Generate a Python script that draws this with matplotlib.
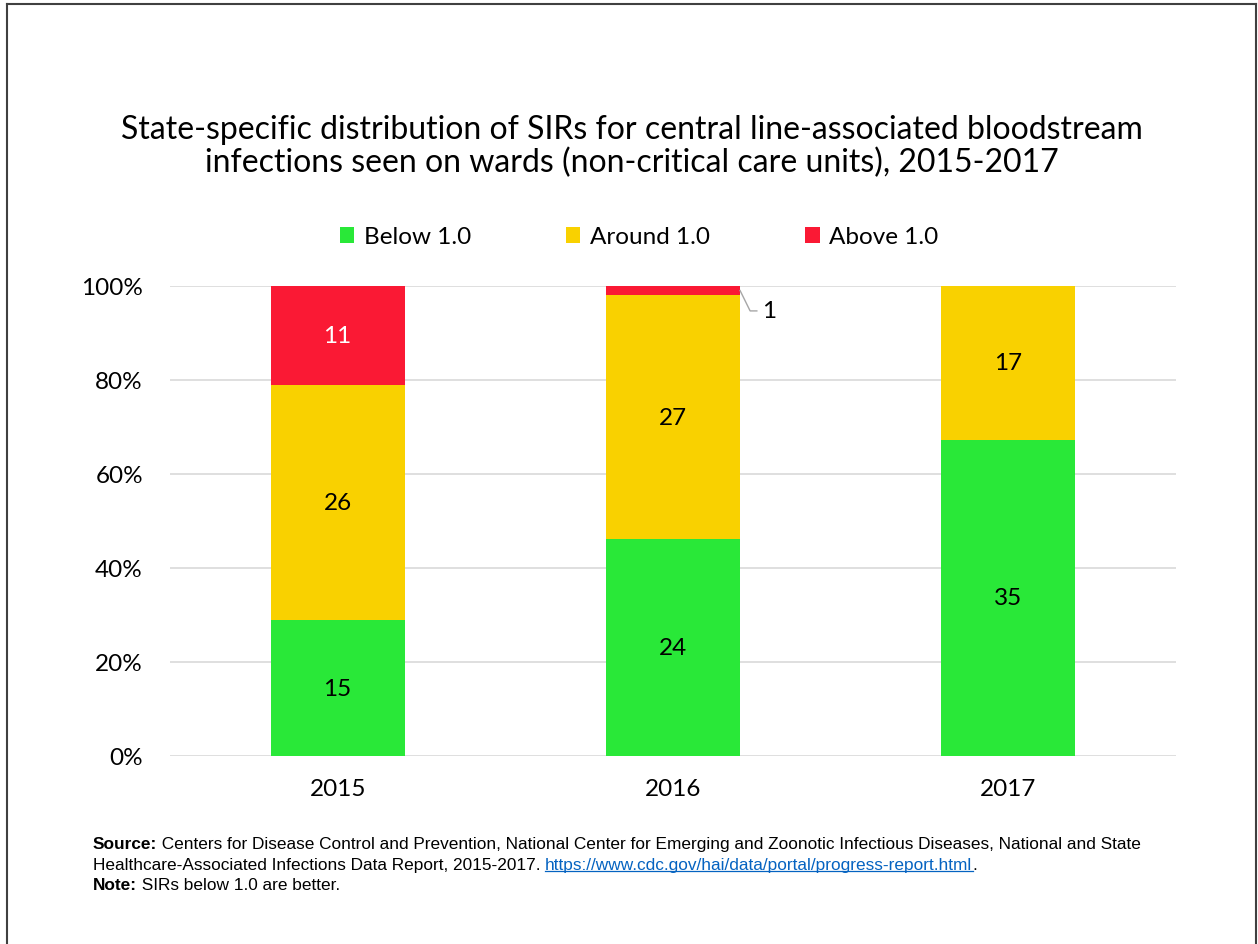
import matplotlib
matplotlib.use("Agg")
import matplotlib.pyplot as plt
from matplotlib.lines import Line2D
from matplotlib.offsetbox import TextArea, HPacker, AnchoredOffsetbox
import numpy as np

years = ["2015", "2016", "2017"]
series_names = ["Below 1.0", "Around 1.0", "Above 1.0"]
below = [15, 24, 35]
around = [26, 27, 17]
above = [11, 1, 0]
yticks = [0, 20, 40, 60, 80, 100]
colors = ["#29E838", "#F9D100", "#FA1934"]

plt.rcParams["font.family"] = ["Lato", "DejaVu Sans"]

W, H = 1258, 945
fig = plt.figure(figsize=(W / 100, H / 100), dpi=100)

def fx(px):
    return px / W

def fy(py):
    return 1 - py / H

ax = fig.add_axes([fx(170), fy(757), fx(1176) - fx(170), fy(287) - fy(757)])

LFS = 17.5
counts = np.array([below, around, above], dtype=float)
totals = counts.sum(axis=0)
pct = counts / totals * 100
x = np.arange(len(years))
bw = 0.4
bottom = np.zeros(len(years))
handles = []
for i, name in enumerate(series_names):
    bars = ax.bar(x, pct[i], bw, bottom=bottom, color=colors[i], label=name, zorder=3)
    handles.append(bars)
    for j in range(len(years)):
        c = counts[i][j]
        if c <= 0:
            continue
        txtcolor = "white" if i == 2 else "black"
        if pct[i][j] < 5:
            top = bottom[j] + pct[i][j]
            x0 = x[j] + bw / 2
            y0 = bottom[j] + pct[i][j] / 2
            ye = top - 5.3
            ax.plot([x0, x0 + 0.03, x0 + 0.05], [y0, ye, ye], color="#A6A6A6", lw=1,
                    zorder=4, clip_on=False)
            ax.text(x0 + 0.066, ye, str(int(c)), ha="left", va="center",
                    fontsize=LFS, color="black", zorder=4)
        else:
            ax.text(x[j], bottom[j] + pct[i][j] / 2, str(int(c)), ha="center", va="center",
                    fontsize=LFS, color=txtcolor, zorder=4)
    bottom = bottom + pct[i]

ax.set_xlim(-0.5, 2.5)
ax.set_ylim(0, 100)
ax.set_yticks(yticks)
ax.set_yticklabels([f"{t}%" for t in yticks])
ax.set_xticks(x)
ax.set_xticklabels(years)
ax.tick_params(axis="both", length=0, labelsize=LFS, colors="black")
ax.tick_params(axis="y", pad=19.5)
ax.tick_params(axis="x", pad=16)
ax.yaxis.grid(True, color="#D9D9D9", lw=1.2, zorder=0)
for s in ax.spines.values():
    s.set_visible(False)

fig.legend(handles=handles, labels=series_names, loc="center", bbox_to_anchor=(fx(639), fy(238)),
           ncol=3, frameon=False, fontsize=LFS, handlelength=0.6, handleheight=0.6,
           handletextpad=0.4, columnspacing=3.9)

fig.text(fx(632), fy(130), "State-specific distribution of SIRs for central line-associated bloodstream",
         ha="center", va="center", fontsize=23)
fig.text(fx(632), fy(163), "infections seen on wards (non-critical care units), 2015-2017",
         ha="center", va="center", fontsize=23)

ff = ["Liberation Sans", "DejaVu Sans"]
fs = 12.4
url_box = None

def line(parts, y):
    global url_box
    boxes = []
    for txt, w, col, is_url in parts:
        ta = TextArea(txt, textprops=dict(fontsize=fs, family=ff, fontweight=w, color=col))
        if is_url:
            url_box = ta
        boxes.append(ta)
    pk = HPacker(children=boxes, pad=0, sep=0, align="baseline")
    ab = AnchoredOffsetbox(loc="center left", child=pk, pad=0, frameon=False,
                           bbox_to_anchor=(fx(93), fy(y)), bbox_transform=fig.transFigure,
                           borderpad=0)
    fig.add_artist(ab)

line([("Source:", "bold", "black", False),
      (" Centers for Disease Control and Prevention, National Center for Emerging and Zoonotic Infectious Diseases, National and State", "normal", "black", False)], 845)
line([("Healthcare-Associated Infections Data Report, 2015-2017. ", "normal", "black", False),
      ("https://www.cdc.gov/hai/data/portal/progress-report.html", "normal", "#0563C1", True),
      (".", "normal", "black", False)], 866)
line([("Note:", "bold", "black", False),
      (" SIRs below 1.0 are better.", "normal", "black", False)], 886)

fig.canvas.draw()
if url_box is not None:
    bb = url_box._text.get_window_extent()
    yl = bb.y0 + 1.5
    fig.add_artist(Line2D([bb.x0 / W, bb.x1 / W], [yl / H, yl / H], color="#0563C1", lw=0.9))

# border
fig.add_artist(Line2D([fx(7), fx(7)], [fy(5), 0], color="#404040", lw=1.5))
fig.add_artist(Line2D([fx(7), fx(1256)], [fy(5), fy(5)], color="#404040", lw=1.5))
fig.add_artist(Line2D([fx(1256), fx(1256)], [fy(5), 0], color="#404040", lw=1.5))

fig.savefig("out.png", dpi=100)
